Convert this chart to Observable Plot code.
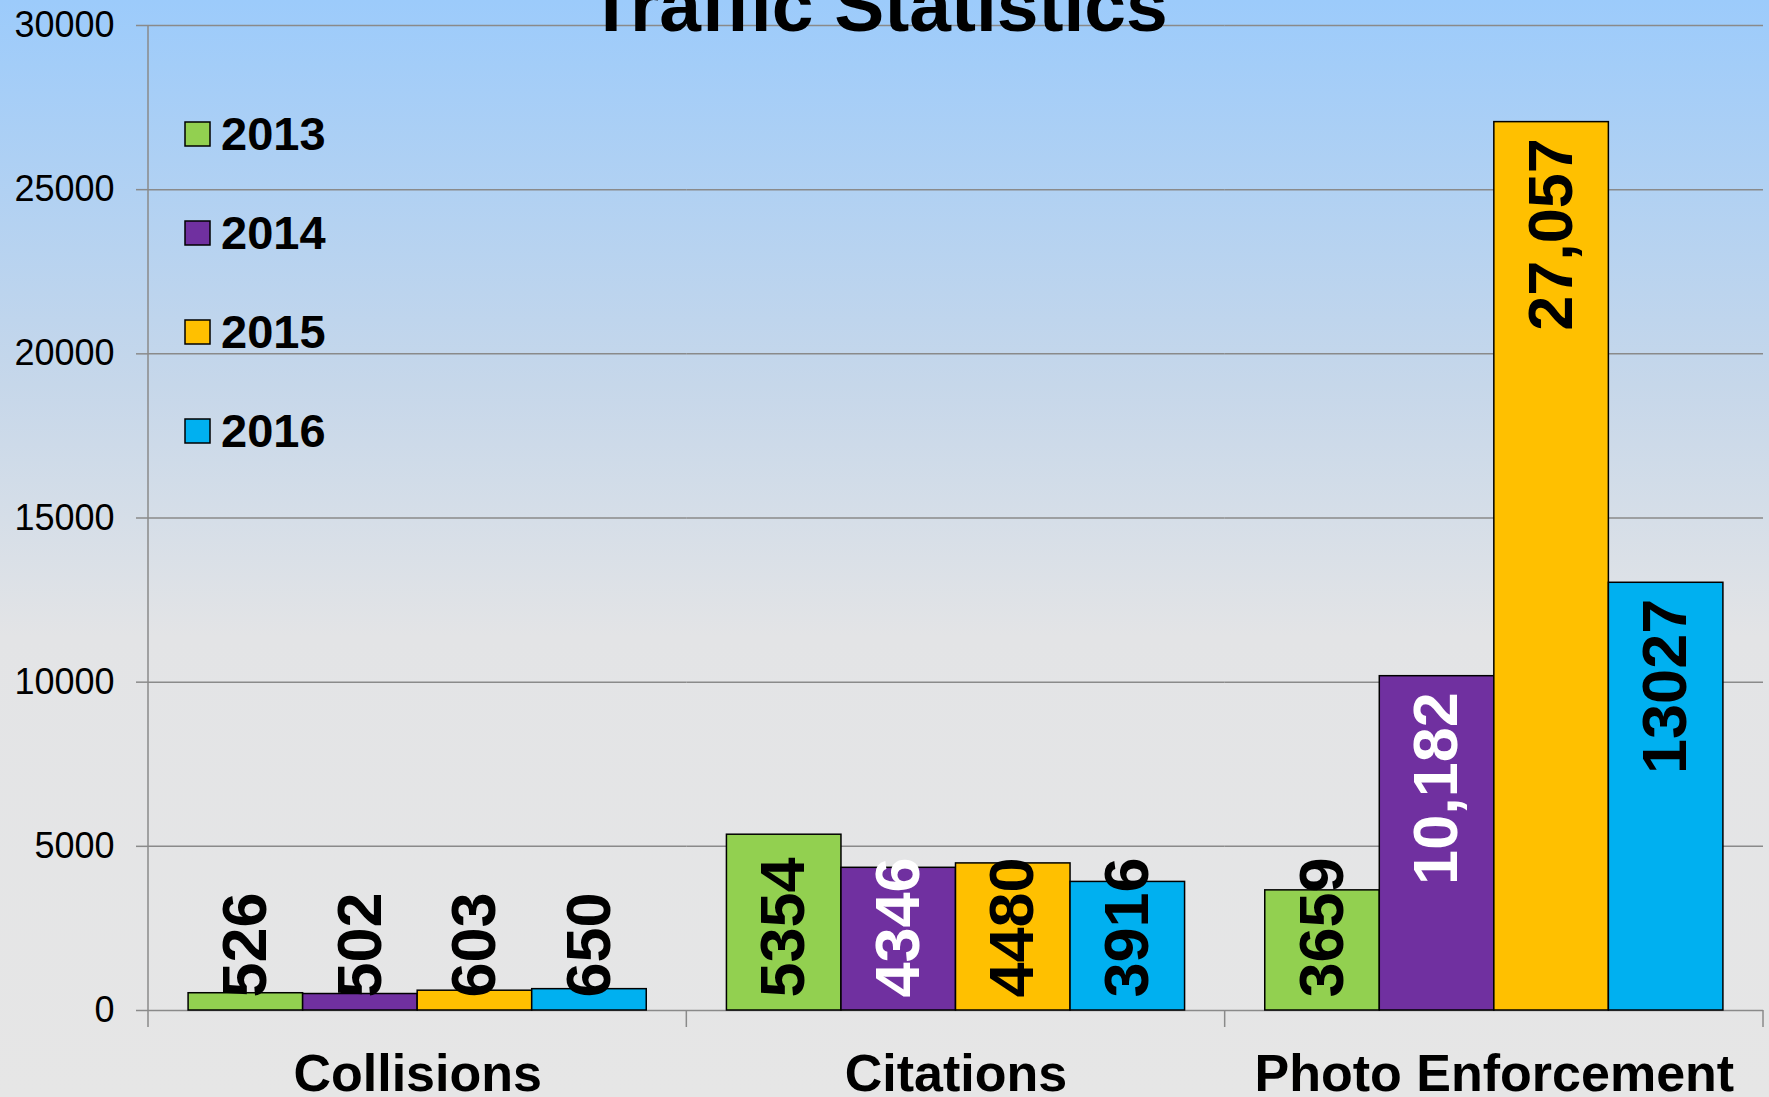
<!DOCTYPE html>
<html>
<head>
<meta charset="utf-8">
<script src="https://cdn.jsdelivr.net/npm/d3@7"></script>
<script src="https://cdn.jsdelivr.net/npm/@observablehq/plot@0.6"></script>
<style>
  html, body { margin: 0; padding: 0; background: #e6e6e6; }
  #chart { position: relative; width: 1769px; height: 1097px; overflow: hidden; }
  #chart svg { display: block; }
</style>
</head>
<body>
<div id="chart"></div>
<script>
const title = "Traffic Statistics";
const categories = ["Collisions", "Citations", "Photo Enforcement"];
const years = ["2013", "2014", "2015", "2016"];
const colors = ["#92D050", "#7030A0", "#FFC000", "#00B0F0"];
const values2013 = [526, 5354, 3659];
const values2014 = [502, 4346, 10182];
const values2015 = [603, 4480, 27057];
const values2016 = [650, 3916, 13027];
const labels2013 = ["526", "5354", "3659"];
const labels2014 = ["502", "4346", "10,182"];
const labels2015 = ["603", "4480", "27,057"];
const labels2016 = ["650", "3916", "13027"];
const yTicks = [0, 5000, 10000, 15000, 20000, 25000, 30000];

const valuesByYear = [values2013, values2014, values2015, values2016];
const labelsByYear = [labels2013, labels2014, labels2015, labels2016];
const table = [];
categories.forEach((c, i) => {
  years.forEach((yr, j) => {
    table.push({category: c, year: yr, value: valuesByYear[j][i], label: labelsByYear[j][i]});
  });
});

const FONT = "'Liberation Sans', Arial, Helvetica, sans-serif";
const isTall = d => d.value > 9000;
const isWhite = d => d.year === "2014" && d.value > 2000;

function labelMark(filter, anchor, dy, fill) {
  return Plot.text(table, {
    filter,
    fx: "category",
    x: "year",
    y: d => (anchor === "end" ? d.value : 0),
    text: "label",
    rotate: -90,
    textAnchor: anchor,
    lineAnchor: "middle",
    dy,
    fill,
    fontSize: 63,
    fontWeight: "bold"
  });
}

const chart = Plot.plot({
  width: 1769,
  height: 1097,
  marginLeft: 148,
  marginRight: 6,
  marginTop: 25,
  marginBottom: 87,
  style: {
    background: "linear-gradient(to bottom, #9ccbfb 0%, #c6d7ea 35%, #e3e4e6 58%, #e6e6e6 100%)",
    fontFamily: FONT,
    color: "black",
    overflow: "visible"
  },
  fx: {domain: categories, padding: 0, round: false, label: null},
  x: {domain: years, paddingInner: 0, paddingOuter: 0.35, round: false, axis: null},
  y: {domain: [0, 30000], label: null},
  color: {domain: years, range: colors},
  marks: [
    Plot.gridY(yTicks, {stroke: "#8a8a8a", strokeOpacity: 1, strokeWidth: 1.5}),
    Plot.axisY(yTicks, {
      tickSize: 12,
      tickPadding: 22,
      fontSize: 36,
      tickFormat: d => String(d),
      label: null,
      stroke: "#8a8a8a",
      strokeWidth: 1.5
    }),
    Plot.axisFx({
      anchor: "bottom",
      tickSize: 0,
      tickPadding: 44,
      fontSize: 52,
      fontWeight: "bold",
      label: null
    }),
    Plot.barY(table, {
      fx: "category",
      x: "year",
      y: "value",
      fill: "year",
      stroke: "black",
      strokeWidth: 1.5
    }),
    labelMark(d => !isTall(d) && !isWhite(d), "start", -13, "black"),
    labelMark(d => !isTall(d) && isWhite(d), "start", -13, "white"),
    labelMark(d => isTall(d) && !isWhite(d), "end", 16, "black"),
    labelMark(d => isTall(d) && isWhite(d), "end", 16, "white")
  ]
});

document.getElementById("chart").appendChild(chart);

// Decorations computed from the plot's own scales
const svg = d3.select(chart);
const fxS = chart.scale("fx");
const yS = chart.scale("y");
const y0 = yS.apply(0);
const yTop = yS.apply(30000);
const starts = categories.map(c => fxS.apply(c));
const bounds = starts.concat([starts[starts.length - 1] + fxS.bandwidth]);
const deco = svg.append("g").attr("stroke", "#8a8a8a").attr("stroke-width", 1.5);
bounds.forEach((bx, i) => {
  deco.append("line")
    .attr("x1", bx).attr("x2", bx)
    .attr("y1", i === 0 ? yTop : y0)
    .attr("y2", y0 + 17);
});

// Title
svg.append("text")
  .attr("x", 878)
  .attr("y", 31)
  .attr("text-anchor", "middle")
  .attr("font-family", FONT)
  .attr("font-size", 75)
  .attr("font-weight", "bold")
  .attr("fill", "black")
  .text(title);

// Legend
const colorS = chart.scale("color");
const legend = svg.append("g").attr("font-family", FONT).attr("text-anchor", "start");
years.forEach((yr, i) => {
  const cy = 134 + i * 99;
  legend.append("rect")
    .attr("x", 185).attr("y", cy - 12)
    .attr("width", 25).attr("height", 24)
    .attr("fill", colorS.apply(yr))
    .attr("stroke", "black").attr("stroke-width", 1.5);
  legend.append("text")
    .attr("x", 221).attr("y", cy + 16)
    .attr("text-anchor", "start")
    .attr("font-size", 47).attr("font-weight", "bold")
    .attr("fill", "black")
    .text(yr);
});
</script>
</body>
</html>
